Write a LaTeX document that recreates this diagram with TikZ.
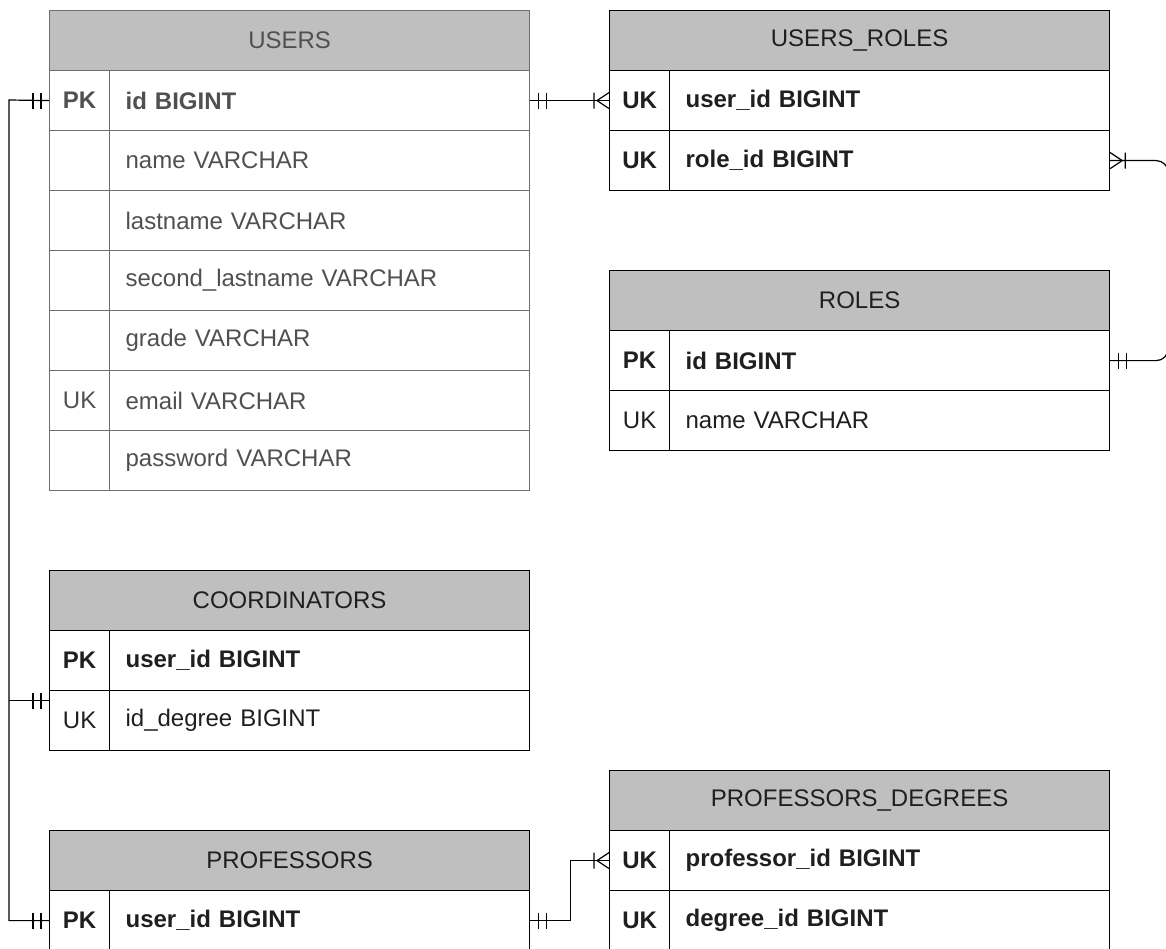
\documentclass[tikz,border=0pt]{standalone}
\usepackage{fontspec}
\setmainfont{Liberation Sans}
\definecolor{hdrgray}{HTML}{BFBFBF}
\definecolor{usersline}{HTML}{6E6E6E}
\definecolor{userstext}{HTML}{505050}
\colorlet{tline}{black}
\colorlet{ttext}{black!88}
\newcommand\bodyfont{\fontsize{24}{28}\selectfont}
\begin{document}
\begin{tikzpicture}[x=1pt,y=-1pt,
  tbl/.style={draw=tline, line width=1.2pt, text=ttext},
  hdr/.style={tbl, fill=hdrgray, anchor=north west, minimum height=60pt, minimum width=#1, inner sep=0pt, font=\bodyfont},
  key/.style={tbl, fill=white, anchor=north west, minimum width=60pt, minimum height=60pt, inner sep=0pt, font=\bodyfont},
  fld/.style={tbl, fill=white, anchor=north west, minimum height=60pt, inner xsep=16pt, inner ysep=0pt, text width=#1, align=left, font=\bodyfont},
  bold/.style={font=\bodyfont\bfseries},
  conn/.style={draw=black, line width=1.2pt},
  mandone/.pic={\draw[conn] (8,-8) -- (8,8) (16,-8) -- (16,8);},
  crowmany/.pic={\draw[conn] (0,-8) -- (12,0) -- (0,8) (15,-8) -- (15,8);}
]
\useasboundingbox (0,0) rectangle (1166,949);

% USERS
\begin{scope}
\colorlet{tline}{usersline}\colorlet{ttext}{userstext}
\node[hdr=480pt] (u0) at (49,10) {USERS};
\node[key,bold] (u1k) at (49,70) {PK};
\node[fld=388pt,bold] (u1) at (109,70) {id BIGINT};
\node[key] (u2k) at (49,130) {};
\node[fld=388pt] (u2) at (109,130) {name VARCHAR};
\node[key] (u3k) at (49,190) {};
\node[fld=388pt] (u3) at (109,190) {lastname VARCHAR};
\node[key] (u4k) at (49,250) {};
\node[fld=388pt] (u4) at (109,250) {second\_lastname VARCHAR};
\node[key] (u5k) at (49,310) {};
\node[fld=388pt] (u5) at (109,310) {grade VARCHAR};
\node[key] (u6k) at (49,370) {UK};
\node[fld=388pt] (u6) at (109,370) {email VARCHAR};
\node[key] (u7k) at (49,430) {};
\node[fld=388pt] (u7) at (109,430) {password VARCHAR};
\end{scope}

% USERS_ROLES
\node[hdr=500pt] (ur0) at (609,10) {USERS\_ROLES};
\node[key,bold] (ur1k) at (609,70) {UK};
\node[fld=408pt,bold] (ur1) at (669,70) {user\_id BIGINT};
\node[key,bold] (ur2k) at (609,130) {UK};
\node[fld=408pt,bold] (ur2) at (669,130) {role\_id BIGINT};

% ROLES
\node[hdr=500pt] (r0) at (609,270) {ROLES};
\node[key,bold] (r1k) at (609,330) {PK};
\node[fld=408pt,bold] (r1) at (669,330) {id BIGINT};
\node[key] (r2k) at (609,390) {UK};
\node[fld=408pt] (r2) at (669,390) {name VARCHAR};

% COORDINATORS
\node[hdr=480pt] (c0) at (49,570) {COORDINATORS};
\node[key,bold] (c1k) at (49,630) {PK};
\node[fld=388pt,bold] (c1) at (109,630) {user\_id BIGINT};
\node[key] (c2k) at (49,690) {UK};
\node[fld=388pt] (c2) at (109,690) {id\_degree BIGINT};

% PROFESSORS
\node[hdr=480pt] (p0) at (49,830) {PROFESSORS};
\node[key,bold] (p1k) at (49,890) {PK};
\node[fld=388pt,bold] (p1) at (109,890) {user\_id BIGINT};

% PROFESSORS_DEGREES
\node[hdr=500pt] (pd0) at (609,770) {PROFESSORS\_DEGREES};
\node[key,bold] (pd1k) at (609,830) {UK};
\node[fld=408pt,bold] (pd1) at (669,830) {professor\_id BIGINT};
\node[key,bold] (pd2k) at (609,890) {UK};
\node[fld=408pt,bold] (pd2) at (669,890) {degree\_id BIGINT};

% connectors
\coordinate (trunk) at (9,100);
\coordinate (cj) at ([yshift=20pt]c2k.west);
\draw[conn] (u1k.west) -- (trunk) -- (trunk |- p1k.west) -- (p1k.west);
\draw[conn] (cj) -- (cj -| trunk);
\pic[xscale=-1] at (u1k.west) {mandone};
\pic[xscale=-1] at (p1k.west) {mandone};
\pic[xscale=-1] at (cj) {mandone};

\draw[conn] (u1.east) -- (ur1k.west);
\pic at (u1.east) {mandone};
\pic[xscale=-1] at (ur1k.west) {crowmany};

\draw[conn, rounded corners=12pt] (ur2.east) -- ++(58,0) |- (r1.east);
\pic at (ur2.east) {crowmany};
\pic at (r1.east) {mandone};

\draw[conn] (p1.east) -- ++(40,0) |- (pd1k.west);
\pic at (p1.east) {mandone};
\pic[xscale=-1] at (pd1k.west) {crowmany};
\end{tikzpicture}
\end{document}
